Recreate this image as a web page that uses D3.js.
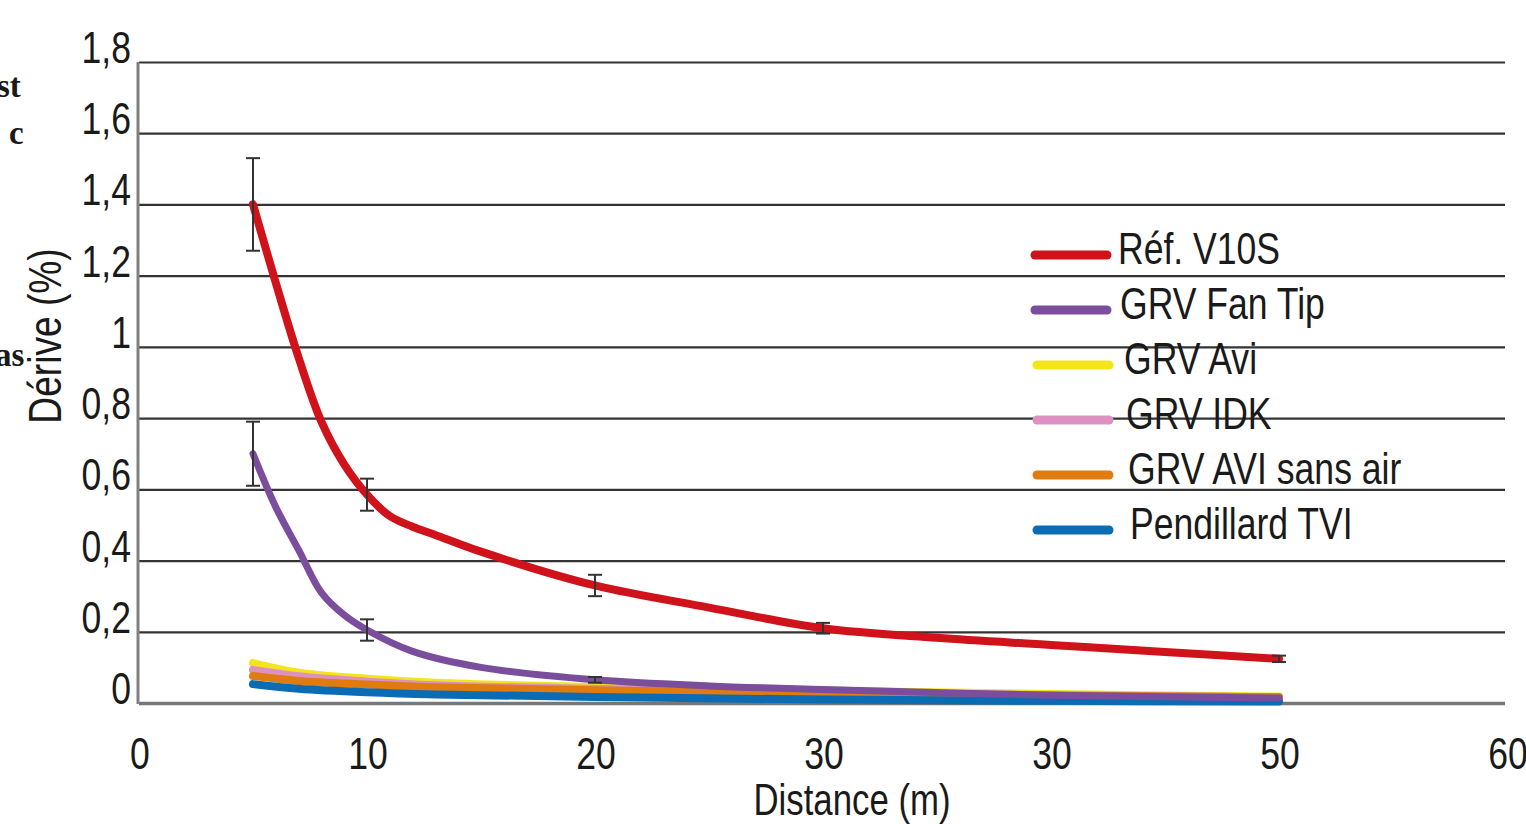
<!DOCTYPE html>
<html>
<head>
<meta charset="utf-8">
<script src="https://cdn.jsdelivr.net/npm/d3@7"></script>
<style>
  body { margin: 0; background: #fff; }
  svg { display: block; }
  text { font-family: "Liberation Sans", Arial, sans-serif; fill: #1a1a1a; }
</style>
</head>
<body>
<svg id="chart" width="1526" height="824"></svg>
<script>
// data
const seriesNames = ["Réf. V10S", "GRV Fan Tip", "GRV Avi", "GRV IDK", "GRV AVI sans air", "Pendillard TVI"];
const seriesColors = ["#d0121b", "#7a4e9c", "#f3e51a", "#dc91c2", "#e07b10", "#0b6cb4"];

const refX = [5, 6, 7, 8, 9, 10, 11, 12, 13, 15, 20, 25, 30, 35, 40, 45, 50];
const refY = [1.40, 1.18, 0.97, 0.79, 0.67, 0.585, 0.525, 0.495, 0.472, 0.425, 0.33, 0.268, 0.21, 0.183, 0.163, 0.143, 0.124];

const fanX = [5, 6, 7, 8, 9, 10, 12, 15, 20, 25, 30, 40, 50];
const fanY = [0.70, 0.55, 0.43, 0.31, 0.247, 0.205, 0.145, 0.10, 0.065, 0.048, 0.038, 0.022, 0.014];

const lowX = [5, 7, 10, 13, 20, 30, 40, 50];
const aviY = [0.112, 0.085, 0.068, 0.057, 0.045, 0.035, 0.025, 0.018];
const idkY = [0.093, 0.075, 0.060, 0.050, 0.040, 0.030, 0.022, 0.016];
const sansAirY = [0.076, 0.062, 0.052, 0.044, 0.036, 0.028, 0.021, 0.016];
const tviY = [0.053, 0.040, 0.030, 0.024, 0.017, 0.010, 0.006, 0.004];

const refErrX = [5, 10, 20, 30, 50];
const refErrLo = [1.27, 0.54, 0.30, 0.195, 0.115];
const refErrHi = [1.53, 0.63, 0.36, 0.225, 0.133];
const fanErrX = [5, 10, 20];
const fanErrLo = [0.61, 0.175, 0.057];
const fanErrHi = [0.79, 0.235, 0.073];

const xTicks = [0, 10, 20, 30, 40, 50, 60];
const xTickLabels = ["0", "10", "20", "30", "30", "50", "60"];
const yTicks = [0, 0.2, 0.4, 0.6, 0.8, 1, 1.2, 1.4, 1.6, 1.8];
const yTickLabels = ["0", "0,2", "0,4", "0,6", "0,8", "1", "1,2", "1,4", "1,6", "1,8"];

const svg = d3.select("#chart");

var x = d3.scaleLinear().domain([0, 60]).range([139, 1507]);
var y = d3.scaleLinear().domain([0, 1.8]).range([703, 62]);
var gridRight = 1505;
var squeeze = 0.79; // the original type is a condensed face

function at(px, py) {
  return "translate(" + px + "," + py + ") scale(" + squeeze + ",1)";
}

// stray scan fragments on the left edge
svg.append("g")
  .selectAll("text")
  .data([["st", -3, 97], ["c", 9, 144], ["as", -5, 366]])
  .join("text")
  .attr("x", d => d[1])
  .attr("y", d => d[2])
  .style("font-family", "'Liberation Serif', serif")
  .style("font-weight", "bold")
  .style("font-size", "33px")
  .text(d => d[0]);

// horizontal grid
svg.append("g")
  .attr("transform", "translate(" + x(0) + ",0)")
  .call(d3.axisLeft(y).tickValues(yTicks).tickSize(-(gridRight - x(0))).tickFormat(""))
  .call(g => g.select(".domain").remove())
  .call(g => g.selectAll(".tick line")
    .attr("stroke", d => d === 0 ? "#777" : "#333")
    .attr("stroke-width", d => d === 0 ? 3.5 : 2.2));

// y axis line
svg.append("line")
  .attr("x1", x(0) - 1).attr("x2", x(0) - 1)
  .attr("y1", y(1.8)).attr("y2", y(0) + 1)
  .attr("stroke", "#808080")
  .attr("stroke-width", 3);

// y tick labels
svg.append("g")
  .selectAll("text")
  .data(yTicks)
  .join("text")
  .attr("transform", d => at(131, y(d) + 1))
  .attr("text-anchor", "end")
  .style("font-size", "45px")
  .text((d, i) => yTickLabels[i]);

// x tick labels
svg.append("g")
  .selectAll("text")
  .data(xTicks)
  .join("text")
  .attr("transform", d => at(x(d) + 1, 769))
  .attr("text-anchor", "middle")
  .style("font-size", "45px")
  .text((d, i) => xTickLabels[i]);

// axis titles
svg.append("text")
  .attr("transform", at(852, 815))
  .attr("text-anchor", "middle")
  .style("font-size", "44px")
  .text("Distance (m)");

svg.append("text")
  .attr("transform", "translate(61,336) rotate(-90) scale(" + squeeze + ",1)")
  .attr("text-anchor", "middle")
  .style("font-size", "47px")
  .text("Dérive (%)");

// curves
var line = d3.line()
  .x(d => x(d[0]))
  .y(d => y(d[1]))
  .curve(d3.curveCatmullRom.alpha(0.5));

function zipXY(xs, ys) { return xs.map((v, i) => [v, ys[i]]); }

var curves = [
  { i: 2, pts: zipXY(lowX, aviY) },
  { i: 3, pts: zipXY(lowX, idkY) },
  { i: 4, pts: zipXY(lowX, sansAirY) },
  { i: 5, pts: zipXY(lowX, tviY) },
  { i: 1, pts: zipXY(fanX, fanY) },
  { i: 0, pts: zipXY(refX, refY) }
];

svg.append("g")
  .selectAll("path")
  .data(curves)
  .join("path")
  .attr("d", d => line(d.pts))
  .attr("fill", "none")
  .attr("stroke", d => seriesColors[d.i])
  .attr("stroke-width", d => d.i === 1 ? 7 : 8)
  .attr("stroke-linecap", "round");

// error bars
var errs = refErrX.map((v, i) => [v, refErrLo[i], refErrHi[i]])
  .concat(fanErrX.map((v, i) => [v, fanErrLo[i], fanErrHi[i]]));

var eb = svg.append("g").attr("stroke", "#333").attr("stroke-width", 2);
eb.selectAll(".stem").data(errs).join("line")
  .attr("x1", d => x(d[0])).attr("x2", d => x(d[0]))
  .attr("y1", d => y(d[1])).attr("y2", d => y(d[2]));
eb.selectAll(".capLo").data(errs).join("line")
  .attr("x1", d => x(d[0]) - 7).attr("x2", d => x(d[0]) + 7)
  .attr("y1", d => y(d[1])).attr("y2", d => y(d[1]));
eb.selectAll(".capHi").data(errs).join("line")
  .attr("x1", d => x(d[0]) - 7).attr("x2", d => x(d[0]) + 7)
  .attr("y1", d => y(d[2])).attr("y2", d => y(d[2]));

// legend
var legend = svg.append("g").attr("transform", "translate(1032,255)");
var rows = legend.selectAll("g")
  .data(seriesNames)
  .join("g")
  .attr("transform", (d, i) => "translate(" + (i > 1 ? 2 : 0) + "," + (i * 55) + ")");

rows.append("line")
  .attr("x1", 3).attr("x2", 75)
  .attr("stroke", (d, i) => seriesColors[i])
  .attr("stroke-width", 9)
  .attr("stroke-linecap", "round");

rows.append("text")
  .attr("transform", (d, i) => at(86 + i * 2, 9))
  .style("font-size", "45px")
  .text(d => d);
</script>
</body>
</html>
